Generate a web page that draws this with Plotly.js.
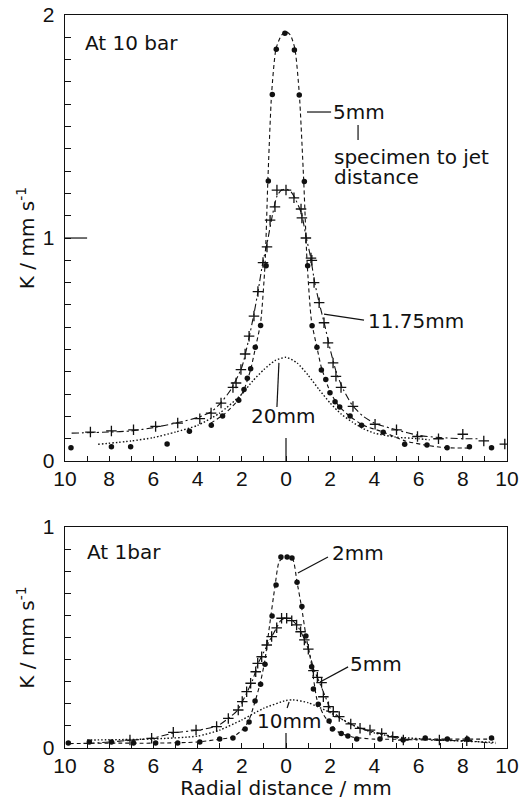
<!DOCTYPE html>
<html><head><meta charset="utf-8">
<script src="https://cdn.plot.ly/plotly-3.0.1.min.js"></script>
<style>body{margin:0;background:#fff}#g{width:521px;height:803px}</style>
</head><body><div id="g"></div>
<script>
// ---------- Top panel (10 bar) ----------
const t5x = [-9.73,-7.9,-7.03,-5.38,-4.37,-3.38,-2.87,-2.14,-1.9,-1.75,-1.6,-1.39,-1.15,-0.9,-0.8,-0.62,-0.44,-0.05,0.38,0.6,0.83,0.98,1.18,1.4,1.6,1.8,1.99,2.22,2.43,2.9,3.42,4.4,5.37,6.38,7.29,8.3,9.3];
const t5y = [0.060,0.064,0.064,0.076,0.133,0.161,0.202,0.272,0.321,0.371,0.414,0.51,0.608,0.876,1.256,1.644,1.846,1.918,1.843,1.641,1.253,0.876,0.607,0.51,0.408,0.366,0.306,0.266,0.242,0.202,0.161,0.129,0.075,0.072,0.060,0.064,0.060];
const t5fx = [-3.4,-2.8,-2.2,-1.9,-1.6,-1.4,-1.15,-0.95,-0.82,-0.65,-0.45,-0.2,0,0.2,0.4,0.6,0.8,0.95,1.15,1.4,1.6,2.0,2.4,2.9,3.5,4.4,5.4,6.4,7.2,8.4];
const t5fy = [0.17,0.21,0.27,0.32,0.41,0.50,0.62,0.88,1.26,1.65,1.85,1.91,1.925,1.91,1.85,1.65,1.26,0.90,0.63,0.51,0.42,0.31,0.245,0.20,0.16,0.13,0.09,0.07,0.06,0.058];

const t11x = [-8.85,-7.9,-6.9,-5.9,-4.9,-3.9,-3.39,-2.94,-2.4,-2.26,-2.04,-1.85,-1.67,-1.45,-1.27,-1.04,-0.86,-0.72,-0.5,-0.41,0,0.36,0.68,0.72,0.9,1.13,1.17,1.27,1.5,1.72,1.9,2.13,2.26,2.49,3.03,4.03,5.0,5.95,6.9,8.0,8.95,9.9];
const t11y = [0.13,0.135,0.14,0.155,0.17,0.19,0.215,0.26,0.33,0.35,0.41,0.48,0.56,0.65,0.76,0.89,0.96,1.08,1.14,1.215,1.215,1.18,1.13,1.09,1.0,0.91,0.9,0.80,0.71,0.62,0.53,0.44,0.38,0.33,0.245,0.165,0.14,0.11,0.10,0.12,0.09,0.076];
const t11fx = [-9.7,-8,-7,-6,-5,-4,-3.4,-3,-2.5,-2.0,-1.7,-1.45,-1.25,-1.05,-0.85,-0.6,-0.4,-0.2,0,0.2,0.4,0.7,0.9,1.1,1.3,1.5,1.75,2.0,2.3,2.6,3.0,3.5,4.0,5.0,6.0,7.0,8.0,8.8];
const t11fy = [0.125,0.13,0.135,0.15,0.17,0.195,0.22,0.255,0.32,0.42,0.54,0.66,0.77,0.89,0.98,1.11,1.19,1.215,1.22,1.21,1.18,1.11,1.01,0.92,0.80,0.71,0.61,0.50,0.39,0.32,0.25,0.20,0.17,0.14,0.115,0.105,0.10,0.10];

const t20fx = [-8.5,-7,-6,-5,-4,-3,-2,-1.5,-1,-0.5,0,0.5,1,1.5,2,2.5,3,3.5,4,5,6,6.5];
const t20fy = [0.075,0.09,0.105,0.13,0.16,0.215,0.30,0.36,0.41,0.45,0.465,0.44,0.385,0.32,0.26,0.21,0.175,0.145,0.125,0.107,0.10,0.095];

// ---------- Bottom panel (1 bar) ----------
const b2x = [-9.85,-8.9,-7.9,-6.9,-5.9,-4.9,-3.9,-3.0,-2.4,-1.85,-1.67,-1.4,-1.15,-0.95,-0.63,-0.45,-0.23,0.05,0.27,0.5,0.72,0.9,1.16,1.24,1.46,1.95,2.1,2.5,2.8,3.2,4.25,5.3,6.3,7.3,8.2,9.3];
const b2y = [0.023,0.027,0.027,0.023,0.023,0.023,0.027,0.041,0.045,0.086,0.118,0.213,0.288,0.379,0.597,0.737,0.864,0.864,0.86,0.75,0.64,0.507,0.368,0.267,0.198,0.122,0.086,0.066,0.054,0.041,0.041,0.036,0.045,0.041,0.041,0.045];
const b2fx = [-9.8,-8,-6,-4,-3,-2.4,-2.0,-1.7,-1.4,-1.15,-0.95,-0.75,-0.5,-0.3,0,0.3,0.5,0.7,0.9,1.15,1.4,1.7,2.0,2.4,3.0,4,6,8,9.5];
const b2fy = [0.02,0.022,0.022,0.027,0.04,0.05,0.08,0.12,0.21,0.30,0.40,0.55,0.73,0.845,0.865,0.855,0.75,0.64,0.51,0.38,0.22,0.15,0.11,0.07,0.05,0.04,0.04,0.04,0.04];

const b5x = [-7.06,-6.08,-5.1,-4.07,-3.14,-2.61,-2.16,-1.98,-1.78,-1.6,-1.37,-1.28,-1.1,-0.87,-0.65,-0.42,-0.2,0.03,0.26,0.48,0.66,0.83,1.01,1.24,1.42,1.61,1.69,1.92,2.14,2.41,2.93,3.35,3.8,4.33,4.83,5.31,6.94,8.18];
const b5y = [0.036,0.044,0.071,0.081,0.097,0.134,0.172,0.21,0.255,0.293,0.345,0.383,0.413,0.466,0.504,0.544,0.587,0.587,0.576,0.557,0.526,0.489,0.447,0.35,0.32,0.296,0.232,0.187,0.164,0.142,0.109,0.089,0.081,0.066,0.051,0.036,0.036,0.033];
const b5fx = [-9,-7,-6,-5,-4,-3.1,-2.6,-2.2,-2.0,-1.75,-1.5,-1.25,-1.0,-0.75,-0.5,-0.25,0,0.25,0.5,0.75,1.0,1.25,1.5,1.75,2.0,2.4,3.0,3.5,4.3,5.3,7,8.5,9.5];
const b5fy = [0.02,0.035,0.045,0.07,0.08,0.10,0.135,0.17,0.205,0.255,0.31,0.385,0.435,0.485,0.53,0.575,0.59,0.58,0.555,0.51,0.45,0.36,0.30,0.24,0.18,0.14,0.105,0.085,0.065,0.04,0.035,0.03,0.02];

const b10fx = [-9,-6,-4,-3,-2,-1,0,0.3,1,2,3,4,5,7,9.5];
const b10fy = [0.036,0.041,0.054,0.081,0.127,0.18,0.215,0.218,0.205,0.16,0.104,0.068,0.05,0.036,0.025];

// ---------- tick labels ----------
const xTickVals = [-10,-9,-8,-7,-6,-5,-4,-3,-2,-1,0,1,2,3,4,5,6,7,8,9,10];
const xTickText = ['10','','8','','6','','4','','2','','0','','2','','4','','6','','8','','10'];
const yTopVals = [0,0.1,0.2,0.3,0.4,0.5,0.6,0.7,0.8,0.9,1,1.1,1.2,1.3,1.4,1.5,1.6,1.7,1.8,1.9,2];
const yTopText = ['0','','','','','','','','','','1','','','','','','','','','','2'];
const yBotVals = [0,0.1,0.2,0.3,0.4,0.5,0.6,0.7,0.8,0.9,1];
const yBotText = ['0','','','','','','','','','','1'];

const FT = 'Liberation Sans, Arial, sans-serif';
const F = 'DejaVu Sans, sans-serif';
const line = (x,y,dash,w,xa,ya) => ({x,y,type:'scatter',mode:'lines',line:{color:'#111',width:w,dash,shape:'spline',smoothing:0.6},xaxis:xa,yaxis:ya,hoverinfo:'skip'});
const dots = (x,y,xa,ya) => ({x,y,type:'scatter',mode:'markers',marker:{symbol:'circle',size:5.5,color:'#111'},xaxis:xa,yaxis:ya});
const plus = (x,y,xa,ya) => ({x,y,type:'scatter',mode:'markers',marker:{symbol:'cross-thin-open',size:7.5,color:'#111',line:{color:'#111',width:1.3}},xaxis:xa,yaxis:ya});
const DASH = '4px,3px';
const DASHDOT = '7px,3px,2px,3px';
const DOT = '1.5px,2px';

const data = [
  line(t5fx,t5fy,DASH,1.1,'x','y'), dots(t5x,t5y,'x','y'),
  line(t11fx,t11fy,DASHDOT,1.1,'x','y'), plus(t11x,t11y,'x','y'),
  line(t20fx,t20fy,DOT,1.4,'x','y'),
  line(b2fx,b2fy,DASH,1.1,'x2','y2'), dots(b2x,b2y,'x2','y2'),
  line(b5fx,b5fy,DASHDOT,1.1,'x2','y2'), plus(b5x,b5y,'x2','y2'),
  line(b10fx,b10fy,DOT,1.4,'x2','y2')
];

const xax = (anchor, title) => ({
  range:[-10,10], anchor, tickmode:'array', tickvals:xTickVals, ticktext:xTickText,
  ticks:'inside', ticklen:5, tickwidth:1, tickcolor:'#111', showgrid:false, zeroline:false,
  showline:true, linecolor:'#111', linewidth:1.3, mirror:true, ticklabelstandoff:-2,
  tickfont:{family:FT,size:21,color:'#111'},
  title: title ? {text:title, font:{family:F,size:20,color:'#111'}, standoff:2} : undefined
});
const yax = (anchor, range, vals, text, domain) => ({
  range, anchor, domain, tickmode:'array', tickvals:vals, ticktext:text,
  ticks:'inside', ticklen:6, tickwidth:1, tickcolor:'#111', showgrid:false, zeroline:false,
  showline:true, linecolor:'#111', linewidth:1.3, mirror:true, ticklabelstandoff:5,
  tickfont:{family:FT,size:21,color:'#111'},
  title:{text:'K / mm s<sup>-1</sup>', font:{family:F,size:20,color:'#111'}, standoff:2}
});

const ann = (text,x,y,xref,yref,xanchor) => ({text,x,y,xref,yref,xanchor:xanchor||'left',yanchor:'middle',showarrow:false,font:{family:F,size:20,color:'#111'}});
const seg = (x0,y0,x1,y1,xref,yref) => ({type:'line',x0,y0,x1,y1,xref,yref,line:{color:'#111',width:1.2}});

const layout = {
  width:521, height:803, margin:{l:65,r:14,t:15,b:55},
  paper_bgcolor:'#fff', plot_bgcolor:'#fff', showlegend:false,
  xaxis: xax('y'),
  yaxis: yax('x',[0,2],yTopVals,yTopText,[0.3915,1]),
  xaxis2: xax('y2','Radial distance / mm'),
  yaxis2: yax('x2',[0,1],yBotVals,yBotText,[0,0.3015]),
  annotations:[
    ann('At 10 bar',-9.2,1.874,'x','y'),
    ann('5mm',2.05,1.565,'x','y'),
    ann('specimen to jet',2.1,1.365,'x','y'),
    ann('distance',2.1,1.275,'x','y'),
    ann('11.75mm',3.6,0.628,'x','y'),
    ann('20mm',-0.14,0.202,'x','y','center'),
    ann('At 1bar',-9.1,0.887,'x2','y2'),
    ann('2mm',2.0,0.882,'x2','y2'),
    ann('5mm',2.8,0.38,'x2','y2'),
    ann('10mm',0.14,0.122,'x2','y2','center')
  ],
  shapes:[
    seg(0.95,1.565,2.04,1.565,'x','y'),
    seg(3.26,1.507,3.26,1.44,'x','y'),
    seg(1.72,0.659,3.53,0.632,'x','y'),
    seg(-0.41,0.242,-0.32,0.44,'x','y'),
    seg(0,0,0,0.103,'x','y'),
    seg(0,1,0.05,1,'x domain','y'),
    seg(0.54,0.792,1.9,0.864,'x2','y2'),
    seg(1.54,0.299,2.81,0.367,'x2','y2'),
    seg(0.05,0.181,0.14,0.208,'x2','y2'),
    seg(0,0,0,0.068,'x2','y2')
  ]
};
Plotly.newPlot('g',data,layout,{staticPlot:true,displayModeBar:false});
</script></body></html>
